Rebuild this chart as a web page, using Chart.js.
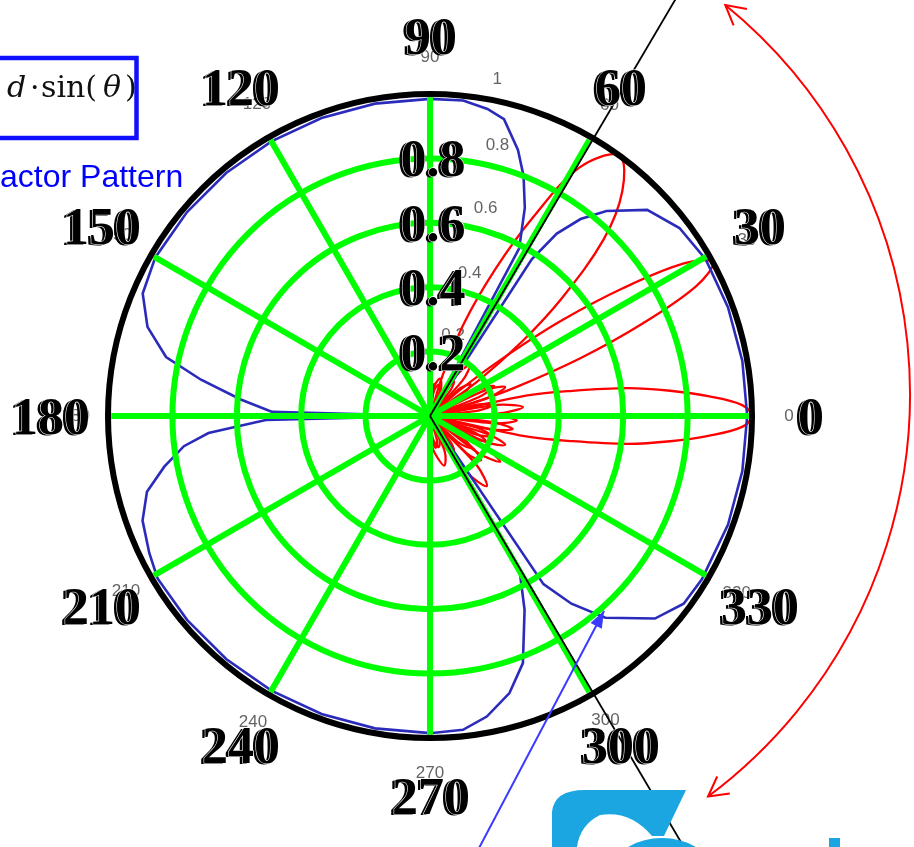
<!DOCTYPE html>
<html>
<head>
<meta charset="utf-8">
<script src="https://cdn.jsdelivr.net/npm/chart.js@4.4.1/dist/chart.umd.min.js"></script>
<style>
  html, body { margin: 0; padding: 0; background: #fff; }
  #wrap { position: relative; width: 914px; height: 847px; }
</style>
</head>
<body>
<div id="wrap"><canvas id="chart"></canvas></div>
<script>
// ================= DATA =================
const angleTicks = [0, 30, 60, 90, 120, 150, 180, 210, 240, 270, 300, 330];
const angleTickLabels = ["0", "30", "60", "90", "120", "150", "180", "210", "240", "270", "300", "330"];
const ringValues = [0.2, 0.4, 0.6, 0.8];
const ringLabels = ["0.2", "0.4", "0.6", "0.8"];

// blue element-factor pattern (deg, r)
const elementAngles = [0, 10, 20, 29.6, 37, 43.5, 49.3, 52.6, 55.2, 57, 59.5, 62, 65.5, 68.7, 71.7, 76, 79.4, 84,
  90, 100, 110, 120, 130, 140, 150, 156.9, 162.5, 167.4, 171, 175, 178.5, 180, 181.4, 184.4, 187, 190.8, 195, 200, 206, 210.8,
  220, 230, 240, 250, 260, 270, 276, 280.7, 286, 290.6, 296, 300.3, 302, 304, 307, 311, 318, 323.5, 329, 340, 350, 360];
const elementR = [.985, .985, .985, .985, .97, .93, .84, .77, .69, .58, 0, .59, .71, .80, .87, .95, .97, .985,
  .985, .985, .985, .985, .985, .985, .985, .97, .92, .84, .72, .59, .49, 0, .51, .69, .77, .84, .91, .95, .97, .985,
  .985, .985, .985, .985, .985, .985, .98, .95, .895, .82, .67, .55, 0, .63, .73, .83, .94, .98, .985, .985, .985, .985];

// red array-factor beams (deg, r)
const beam0Angles = [-90, -83, -75, -68, -62, -58.5, -55, -51.5, -48, -43, -38, -33, -29, -25, -21, -17.5, -14,
  -12, -10, -8, -6, -4, -2, 0, 2, 4, 6, 8, 10, 12, 14, 17.5, 21, 25, 29, 33, 38, 43, 48, 51.5, 55, 58.5, 62, 68, 75, 83, 90];
const beam0R = [0, .07, .1, .08, 0, .1, .13, .1, 0, .12, .16, .12, 0, .19, .25, .19, 0,
  .3, .45, .62, .75, .87, .97, 1, .97, .87, .75, .62, .45, .3, 0, .19, .25, .19, 0, .12, .16, .12, 0, .1, .13, .1, 0, .08, .1, .07, 0];

const beam30Angles = [-90, -86, -80, -74, -68, -63.5, -59, -54.5, -50, -45.5, -41, -36.5, -32, -28, -24, -20, -16,
  -12.5, -9, -5.5, -2, 2, 5.5, 9.5, 14, 16.5, 18.5, 21, 23.5, 26, 28.5, 31, 33.5, 36, 38.5, 41, 43, 47.5, 52, 57, 62, 68, 75, 83, 90];
const beam30R = [0, .07, .1, .08, 0, .11, .15, .11, 0, .16, .21, .16, 0, .14, .19, .14, 0,
  .19, .26, .19, 0, .21, .29, .21, 0, .12, .28, .5, .72, .92, 1, .92, .72, .5, .28, .12, 0, .15, .2, .15, 0, .09, .12, .09, .05];

const beam55Angles = [-90, -82, -74, -67.5, -62, -56.5, -51, -46.5, -42, -37.5, -33, -29.5, -26, -22, -18, -14, -10,
  -6.5, -3, 0.5, 3, 6.5, 10, 13.5, 17, 21, 25, 29, 33, 36, 39, 41.8, 45.5, 49.5, 54, 59, 62.5, 66, 70, 73, 75, 82, 90];
const beam55R = [.08, .12, .16, .12, 0, .21, .28, .21, 0, .19, .26, .19, 0, .15, .2, .15, 0,
  .2, .27, .2, 0, .15, .2, .15, 0, .16, .22, .16, 0, .18, .37, .55, .77, .92, 1, .9, .7, .5, .3, .12, 0, .1, .06];

// null direction rays (deg)
const nullRays = [59.5, -59.5];

// faint labels of the underlying plot
const ghostTexts = ["90", "60", "30", "0", "330", "300", "270", "240", "210", "180", "150", "120", "1", "0.8", "0.6", "0.4", "0.2"];
const ghostAngles = [90, 60, 29, 0, 330, 300, 270, 240, 210, 180, 150, 119, 78.7, 76, 75, 74.5, 74];
const ghostR = [1.115, 1.115, 1.125, 1.115, 1.1, 1.09, 1.11, 1.1, 1.09, 1.1, 1.12, 1.108, 1.065, 0.866, 0.668, 0.46, 0.26];

// ================= HELPERS =================
const rad = d => d * Math.PI / 180;

function toXY(angles, rs) {
  return angles.map((a, i) => ({ x: rs[i] * Math.cos(rad(a)), y: rs[i] * Math.sin(rad(a)) }));
}

function toPx(chart, r, deg) {
  return {
    x: chart.scales.x.getPixelForValue(r * Math.cos(rad(deg))),
    y: chart.scales.y.getPixelForValue(r * Math.sin(rad(deg)))
  };
}

function boldLabel(ctx, text, x, y) {
  ctx.font = 'bold 52px "Liberation Serif", "Times New Roman", serif';
  ctx.textAlign = "center";
  ctx.textBaseline = "alphabetic";
  const by = y + 18;
  ctx.fillStyle = "#000";
  ctx.fillText(text, x - 2, by + 1);
  ctx.strokeStyle = "#fff";
  ctx.lineWidth = 1.1;
  ctx.strokeText(text, x + 1, by);
  ctx.fillText(text, x + 1, by);
}

function openHead(ctx, tx, ty, dirAng, len, spread) {
  ctx.beginPath();
  ctx.moveTo(tx + len * Math.cos(dirAng + spread), ty + len * Math.sin(dirAng + spread));
  ctx.lineTo(tx, ty);
  ctx.lineTo(tx + len * Math.cos(dirAng - spread), ty + len * Math.sin(dirAng - spread));
  ctx.stroke();
}

// ================= DECORATION PLUGIN =================
const polarDecor = {
  id: "polarDecor",
  beforeDatasetsDraw(chart) {
    const ctx = chart.ctx;
    ctx.save();
    ctx.fillStyle = "rgba(60,60,60,0.8)";
    ctx.font = '17px "Liberation Sans", Arial, sans-serif';
    ctx.textAlign = "center";
    ctx.textBaseline = "middle";
    ctx.filter = "blur(0.5px)";
    ghostTexts.forEach((t, i) => {
      const p = toPx(chart, ghostR[i], ghostAngles[i]);
      ctx.fillText(t, p.x, p.y);
    });
    ctx.restore();
  },
  afterDatasetsDraw(chart) {
    const ctx = chart.ctx;
    const c = toPx(chart, 0, 0);
    const unit = chart.scales.x.getPixelForValue(1) - c.x;
    ctx.save();

    // green grid
    ctx.strokeStyle = "#00ff00";
    ctx.lineWidth = 6;
    ringValues.forEach(v => {
      ctx.beginPath();
      ctx.arc(c.x, c.y, v * unit, 0, Math.PI * 2);
      ctx.stroke();
    });
    angleTicks.forEach(a => {
      const p = toPx(chart, 0.99, a);
      ctx.beginPath();
      ctx.moveTo(c.x, c.y);
      ctx.lineTo(p.x, p.y);
      ctx.stroke();
    });

    // outer circle
    ctx.strokeStyle = "#000";
    ctx.lineWidth = 6;
    ctx.beginPath();
    ctx.arc(c.x, c.y, unit, 0, Math.PI * 2);
    ctx.stroke();

    // null rays
    ctx.lineWidth = 1.8;
    nullRays.forEach(a => {
      const p = toPx(chart, 1.7, a);
      ctx.beginPath();
      ctx.moveTo(c.x, c.y);
      ctx.lineTo(p.x, p.y);
      ctx.stroke();
    });

    // labels
    angleTicks.forEach((a, i) => {
      const p = toPx(chart, 1.18, a);
      boldLabel(ctx, angleTickLabels[i], p.x, p.y);
    });
    ringValues.forEach((v, i) => {
      const p = toPx(chart, v, 90);
      boldLabel(ctx, ringLabels[i], p.x + 2, p.y);
    });

    // formula box (cut at left edge)
    ctx.strokeStyle = "#1010ff";
    ctx.lineWidth = 4.5;
    ctx.strokeRect(-5, 58, 141.5, 80);
    ctx.fillStyle = "#111";
    ctx.textAlign = "left";
    ctx.textBaseline = "alphabetic";
    const fy = 97;
    ctx.font = '30px "DejaVu Serif", serif';
    ctx.fillText("(", -11, fy);
    ctx.font = 'italic 30px "DejaVu Serif", serif';
    ctx.fillText("d", 7, fy);
    ctx.font = '30px "DejaVu Serif", serif';
    ctx.fillText("\u00b7", 30, fy);
    ctx.fillText("sin(", 41, fy);
    ctx.font = 'italic 30px "DejaVu Serif", serif';
    ctx.fillText("\u03b8", 103, fy);
    ctx.font = '30px "DejaVu Serif", serif';
    ctx.fillText(")", 125, fy);

    ctx.fillStyle = "#0000ff";
    ctx.font = '32px "Liberation Sans", Arial, sans-serif';
    ctx.fillText("actor Pattern", 0, 187);

    // red double-headed arc
    ctx.strokeStyle = "#ff0000";
    ctx.lineWidth = 2;
    const acx = 408, acy = 394, ar = 502;
    const a0 = rad(-50.8), a1 = rad(53.3);
    ctx.beginPath();
    ctx.arc(acx, acy, ar, a0, a1);
    ctx.stroke();
    const t0 = { x: acx + ar * Math.cos(a0), y: acy + ar * Math.sin(a0) };
    const t1 = { x: acx + ar * Math.cos(a1), y: acy + ar * Math.sin(a1) };
    openHead(ctx, t0.x, t0.y, a0 + Math.PI / 2, 22, 0.5);
    openHead(ctx, t1.x, t1.y, a1 - Math.PI / 2, 22, 0.5);

    // blue pointer arrow
    ctx.strokeStyle = "#3a3aff";
    ctx.fillStyle = "#3a3aff";
    ctx.lineWidth = 2;
    const bx0 = 478, by0 = 850, bx1 = 604, by1 = 611;
    ctx.beginPath();
    ctx.moveTo(bx0, by0);
    ctx.lineTo(bx1, by1);
    ctx.stroke();
    const ba = Math.atan2(by0 - by1, bx0 - bx1);
    ctx.beginPath();
    ctx.moveTo(bx1, by1);
    ctx.lineTo(bx1 + 18 * Math.cos(ba + 0.36), by1 + 18 * Math.sin(ba + 0.36));
    ctx.lineTo(bx1 + 18 * Math.cos(ba - 0.36), by1 + 18 * Math.sin(ba - 0.36));
    ctx.closePath();
    ctx.fill();

    // partial logo, bottom right
    ctx.fillStyle = "#1ba5e1";
    ctx.beginPath();
    ctx.moveTo(552, 847);
    ctx.lineTo(552, 812);
    ctx.quadraticCurveTo(554, 790, 585, 790);
    ctx.lineTo(686, 790);
    ctx.lineTo(664, 836);
    ctx.lineTo(652, 836);
    ctx.quadraticCurveTo(630, 810, 600, 815);
    ctx.quadraticCurveTo(580, 825, 577, 847);
    ctx.closePath();
    ctx.fill();
    ctx.beginPath();
    ctx.ellipse(662, 866, 46, 28, 0, Math.PI, Math.PI * 2);
    ctx.fill();
    ctx.fillRect(829, 838, 11, 9);

    ctx.restore();
  }
};

// ================= CHART =================
const lineDs = (pts, color, width, tension) => ({
  data: pts,
  showLine: true,
  borderColor: color,
  borderWidth: width,
  pointRadius: 0,
  tension: tension,
  fill: false,
  clip: false
});

new Chart(document.getElementById("chart"), {
  type: "scatter",
  data: {
    datasets: [
      lineDs(toXY(elementAngles, elementR), "#2b2bbb", 2.6, 0),
      lineDs(toXY(beam0Angles, beam0R), "#ff0000", 2.3, 0.35),
      lineDs(toXY(beam30Angles, beam30R), "#ff0000", 2.3, 0.35),
      lineDs(toXY(beam55Angles, beam55R), "#ff0000", 2.3, 0.35)
    ]
  },
  options: {
    responsive: true,
    maintainAspectRatio: false,
    animation: false,
    layout: { padding: 0 },
    plugins: { legend: { display: false }, tooltip: { enabled: false } },
    scales: {
      x: { type: "linear", min: -430 / 322, max: 484 / 322, display: false },
      y: { type: "linear", min: -431 / 322, max: 416 / 322, display: false }
    }
  },
  plugins: [polarDecor]
});
</script>
</body>
</html>
